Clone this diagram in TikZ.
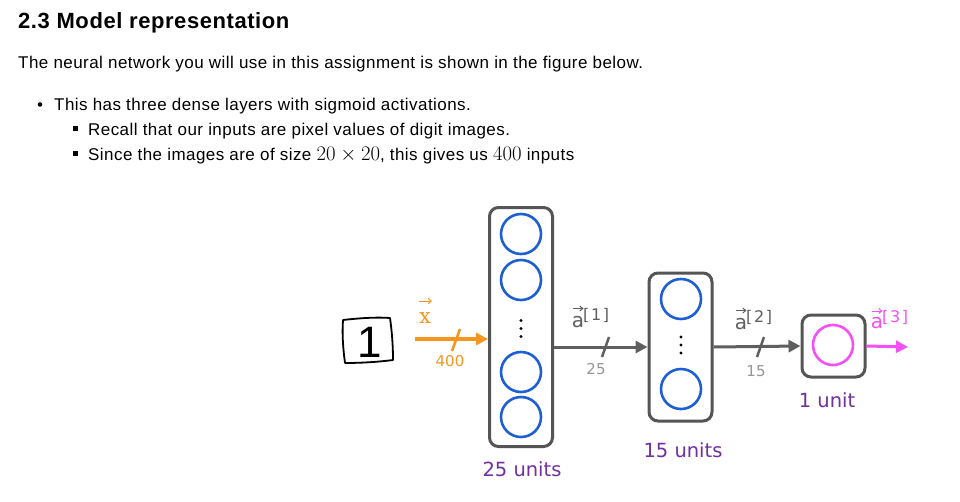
\documentclass[tikz,border=0pt]{standalone}
\usepackage{amsmath}
\usepackage{fontspec}
\setmainfont{Liberation Sans}[LetterSpace=2.6]
\newfontfamily\dv{DejaVu Sans}
\newfontfamily\dvsup{DejaVu Sans}[LetterSpace=10]
\newfontfamily\dvs{DejaVu Serif}
\usetikzlibrary{arrows.meta,calc}
\definecolor{boxgray}{RGB}{85,85,85}
\definecolor{argray}{RGB}{95,95,95}
\definecolor{lblgray}{RGB}{150,150,150}
\definecolor{nblue}{RGB}{30,95,210}
\definecolor{orng}{RGB}{247,150,30}
\definecolor{mag}{RGB}{245,80,245}
\definecolor{purp}{RGB}{112,48,160}
\newcommand{\largemath}[1]{{\fontsize{19.5}{22}\selectfont$#1$}}
\tikzset{
  layer/.style={draw=boxgray, line width=3pt, rounded corners=9pt, inner sep=0pt},
  unit/.style={circle, draw=nblue, line width=2.6pt, minimum size=40pt, inner sep=0pt},
  conn/.style={draw=argray, line width=3pt, -{Triangle[length=12pt,width=12pt]}},
  tick/.style={draw=argray, line width=2.5pt},
  para/.style={anchor=base west, inner sep=0pt, font=\fontsize{17}{20}\selectfont},
  units/.style={text=purp, font=\dv\fontsize{19.5}{22}\selectfont, inner sep=0pt},
  small/.style={font=\dv\fontsize{15}{17}\selectfont, inner sep=0pt},
  vlabel/.style={font=\dv\fontsize{20}{24}\selectfont, inner sep=0pt, anchor=base},
  suplabel/.style={font=\dvsup\fontsize{16}{18}\selectfont, inner sep=0pt, anchor=base west},
  varrow/.style={line width=1pt, -{Straight Barb[length=3pt,width=5pt]}},
}
\begin{document}
\begin{tikzpicture}[x=1pt,y=-1pt]
\useasboundingbox[fill=white] (0,0) rectangle (960,501);
% text
\node[anchor=base west, inner sep=0pt, font=\fontsize{22}{26}\selectfont\bfseries] (title) at (18,28) {2.3 Model representation};
\node[para] (p1) at (18,68) {The neural network you will use in this assignment is shown in the figure below.};
\node[para] (b1) at (54,110) {This has three dense layers with sigmoid activations.};
\node[para] (b2) at (88,135) {Recall that our inputs are pixel values of digit images.};
\node[para] (b3) at (88,160) {Since the images are of size \largemath{20\times20}, this gives us \largemath{400} inputs};
\fill (40,104.5) circle (2.3);
\fill (73,126) rectangle (78,131);
\fill (73,151) rectangle (78,156);
% hand drawn input
\draw[line width=1.8pt, line join=round, line cap=round] (343,320) .. controls (360,318) and (378,317) .. (390,318) .. controls (392,332) and (393,346) .. (393,360) .. controls (378,362) and (360,363) .. (345,363) .. controls (343,348) and (342,334) .. (343,320);
\node[font=\fontsize{44}{48}\selectfont, inner sep=0pt] (one) at (370,342) {1};
% layers
\node[layer, minimum width=63pt, minimum height=239pt] (L1) at (521,327) {};
\node[layer, minimum width=63pt, minimum height=148pt] (L2) at (680.5,347) {};
\node[layer, minimum width=63pt, minimum height=62pt] (L3) at (833.5,346) {};
\node[unit] (u11) at (521,234) {};
\node[unit] (u12) at (521,280) {};
\node[unit] (u13) at (521,372) {};
\node[unit] (u14) at (521,417) {};
\node[unit] (u21) at (681,299) {};
\node[unit] (u22) at (681,389) {};
\node[unit, draw=mag] (u31) at (833,345) {};
\foreach \y in {320.5,328.5,336.5} \fill (521,\y) circle (1.7);
\foreach \y in {337,345,353} \fill (681,\y) circle (1.7);
% connectors
\coordinate (xs) at (415,339);
\coordinate (outp) at (908,347);
\draw[conn, draw=orng, line width=4pt] (xs) -- (xs -| L1.west);
\draw[tick, draw=orng, line width=2.5pt] (452,351) -- (460,329);
\node[small, text=orng] (n400) at (450,361) {400};
\node[vlabel, text=orng, font=\dvs\fontsize{21}{24}\selectfont] (lx) at (425,323) {x};
\draw[varrow, draw=orng] ($(lx.base)+(-6,-22)$) -- ($(lx.base)+(7,-22)$);
\draw[conn] (L2.west -| L1.east) -- (L2.west);
\draw[tick] (602,357) -- (609,337);
\node[small, text=lblgray] (n25) at (596,369) {25};
\node[vlabel, text=argray] (la1) at (578,327) {a};
\node[suplabel, text=argray] (la1s) at (583,320) {[1]};
\draw[varrow, draw=argray] ($(la1.base)+(-5.5,-18.5)$) -- ($(la1.base)+(5.5,-18.5)$);
\draw[conn] (L2.east) -- (L3.west);
\draw[tick] (757,357) -- (764,337);
\node[small, text=lblgray] (n15) at (756,371) {15};
\node[vlabel, text=argray] (la2) at (741,329) {a};
\node[suplabel, text=argray] (la2s) at (746,322) {[2]};
\draw[varrow, draw=argray] ($(la2.base)+(-5.5,-18.5)$) -- ($(la2.base)+(5.5,-18.5)$);
\draw[conn, draw=mag] (L3.east) -- (outp);
\node[vlabel, text=mag] (la3) at (877,328) {a};
\node[suplabel, text=mag] (la3s) at (882,322) {[3]};
\draw[varrow, draw=mag] ($(la3.base)+(-5.5,-17)$) -- ($(la3.base)+(5.5,-17)$);
% unit labels
\node[units] (t1) at (522,469) {25 units};
\node[units] (t2) at (683,450) {15 units};
\node[units] (t3) at (827,400) {1 unit};
\end{tikzpicture}
\end{document}
